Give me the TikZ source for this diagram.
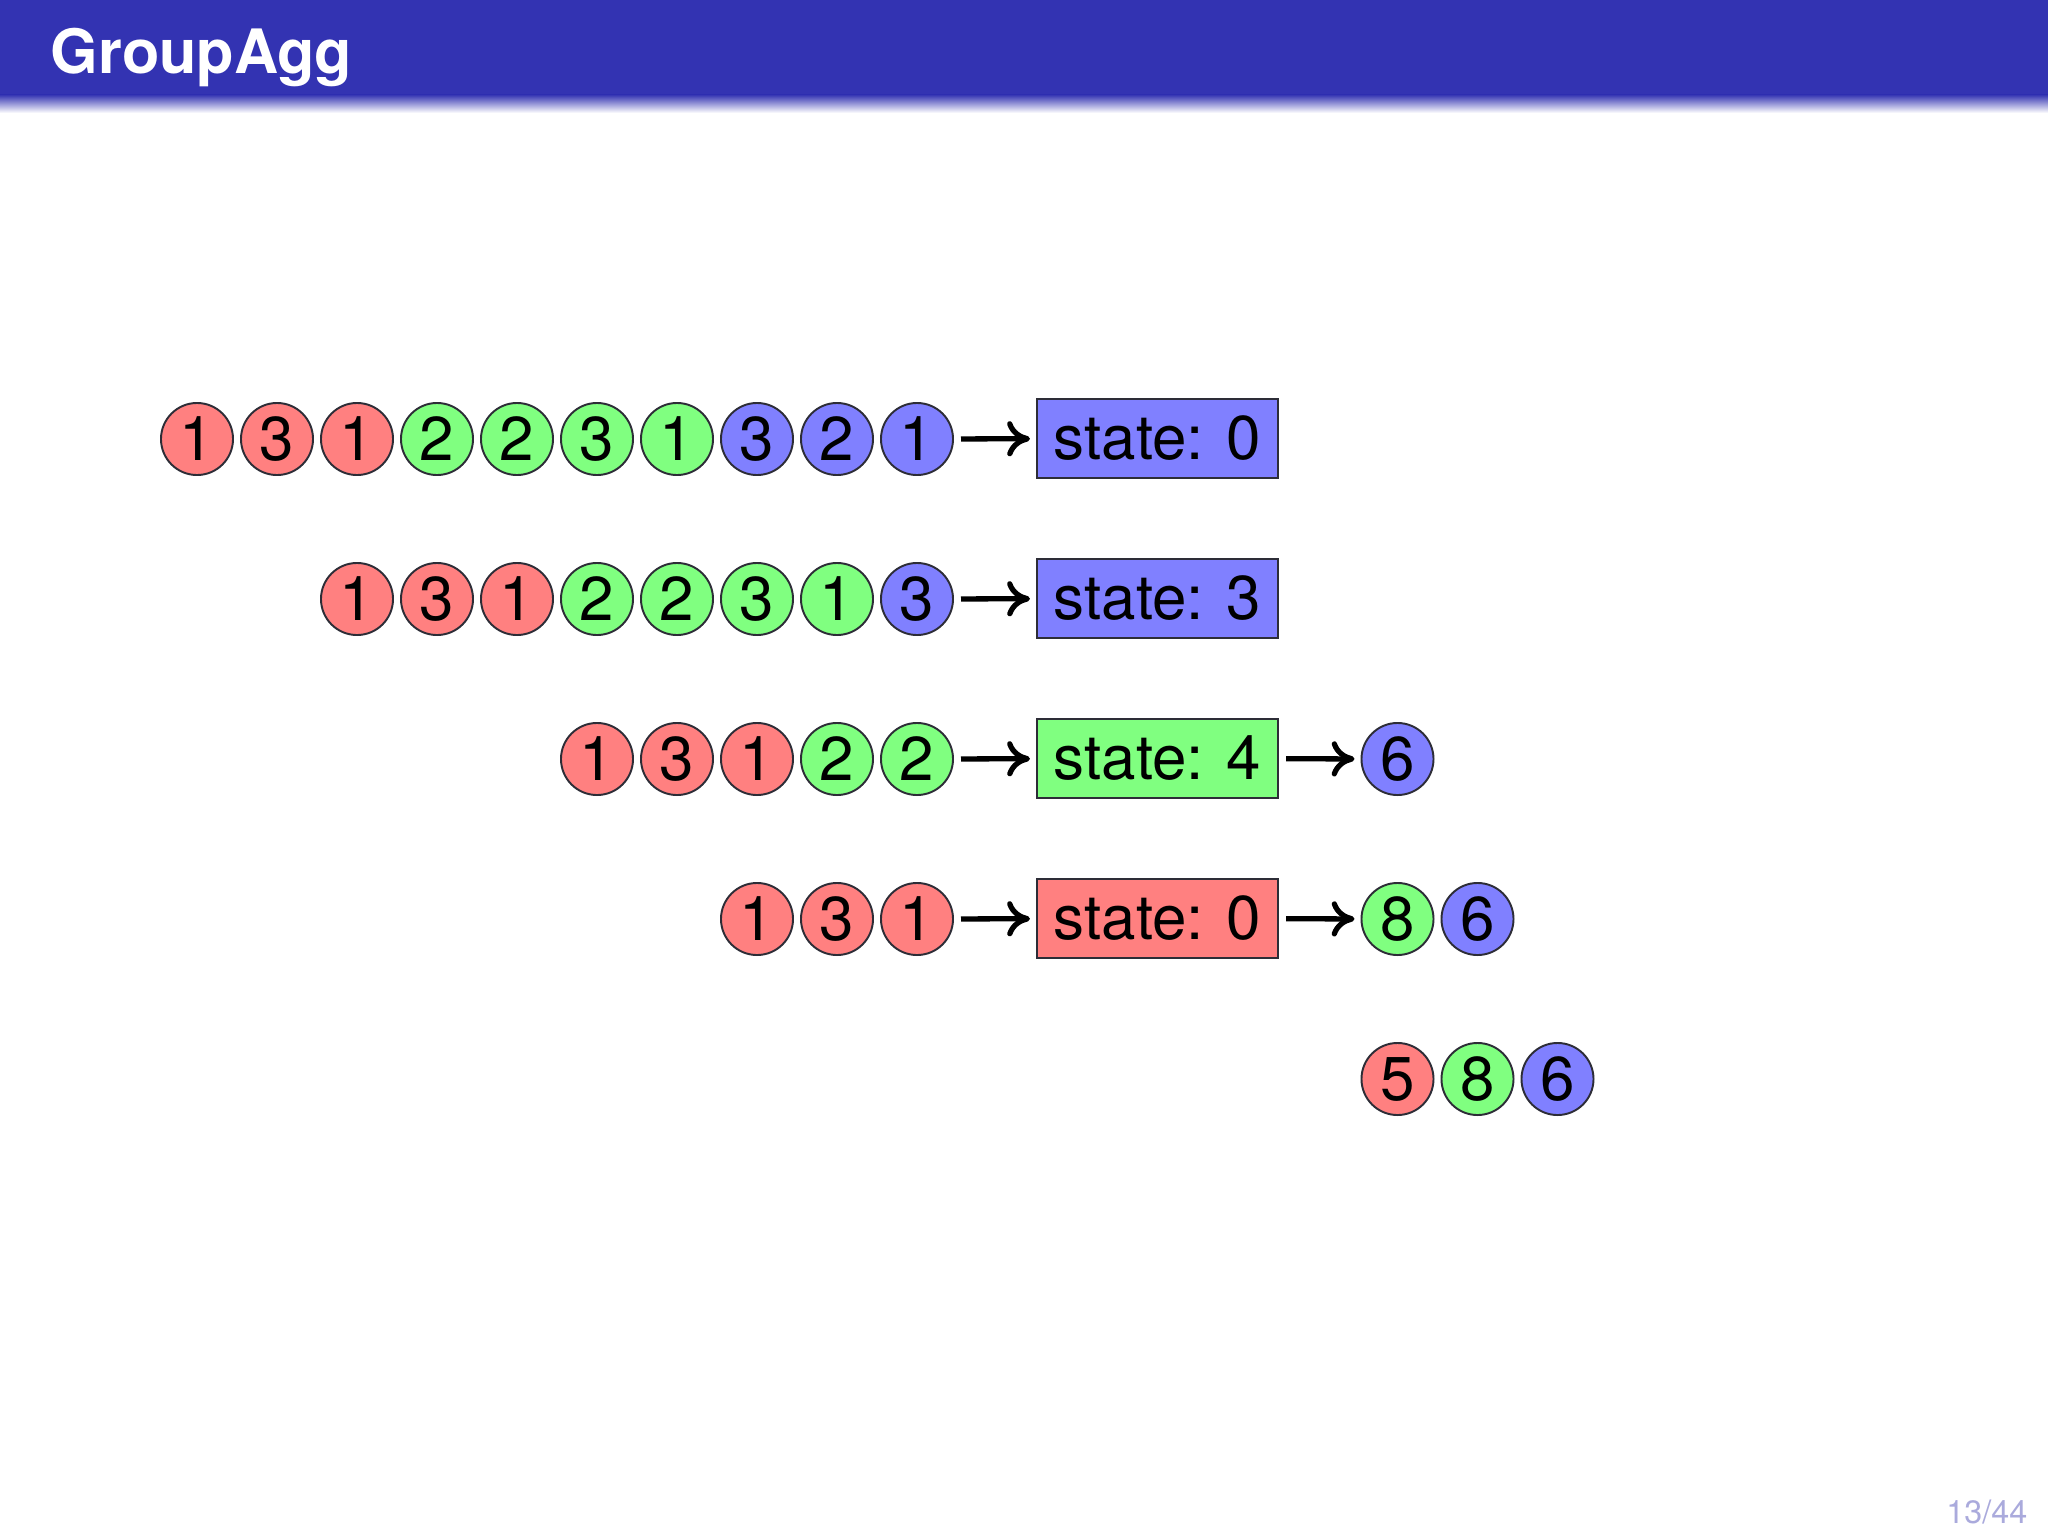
\documentclass[tikz,border=0pt]{standalone}
\usepackage{fontspec}
\setmainfont{TeX Gyre Heros}
\usetikzlibrary{arrows.meta}
\definecolor{barblue}{RGB}{51,51,178}
\definecolor{R}{RGB}{255,128,128}
\definecolor{G}{RGB}{128,255,128}
\definecolor{B}{RGB}{128,128,255}
\definecolor{edge}{RGB}{45,45,55}
\definecolor{pagenum}{RGB}{170,170,220}
\tikzset{
  ball/.style={circle, draw=edge, line width=0.55pt, minimum size=0.72cm, inner sep=0pt,
    font=\fontsize{17.6}{21}\selectfont},
  sbox/.style={rectangle, draw=edge, line width=0.55pt, minimum width=2.41cm, minimum height=0.79cm,
    inner sep=0pt, font=\fontsize{17.6}{21}\selectfont},
  arr/.style={line width=1.5pt, -{To[length=6.5pt,width=10pt]}, shorten <=0.07cm, shorten >=0.06cm},
}
\begin{document}
\begin{tikzpicture}[x=0.01cm,y=-0.01cm]
\useasboundingbox (0,0) rectangle (2048,1536);
% title bar
\fill[barblue] (0,0) rectangle (2048,95);
\shade[top color=barblue, bottom color=white] (0,94.5) rectangle (2048,113);
\node[anchor=base west, inner sep=0pt, text=white, font=\fontsize{17.4}{21}\selectfont\bfseries] (title) at (50,73) {GroupAgg};
% row 1
\foreach \v/\c [count=\i] in {1/R,3/R,1/R,2/G,2/G,3/G,1/G,3/B,2/B,1/B}
  \node[ball, fill=\c] (a\i) at ({197+80*(\i-1)},439) {\v};
\node[sbox, fill=B] (s1) at (1157.5,438.5) {state: 0};
\draw[arr] (a10) -- (s1);
% row 2
\foreach \v/\c [count=\i] in {1/R,3/R,1/R,2/G,2/G,3/G,1/G,3/B}
  \node[ball, fill=\c] (b\i) at ({357+80*(\i-1)},599) {\v};
\node[sbox, fill=B] (s2) at (1157.5,598.5) {state: 3};
\draw[arr] (b8) -- (s2);
% row 3
\foreach \v/\c [count=\i] in {1/R,3/R,1/R,2/G,2/G}
  \node[ball, fill=\c] (c\i) at ({597+80*(\i-1)},759) {\v};
\node[sbox, fill=G] (s3) at (1157.5,758.5) {state: 4};
\node[ball, fill=B] (o3a) at (1397.5,759) {6};
\draw[arr] (c5) -- (s3);
\draw[arr] (s3) -- (o3a);
% row 4
\foreach \v/\c [count=\i] in {1/R,3/R,1/R}
  \node[ball, fill=\c] (d\i) at ({757+80*(\i-1)},919) {\v};
\node[sbox, fill=R] (s4) at (1157.5,918.5) {state: 0};
\node[ball, fill=G] (o4a) at (1397.5,919) {8};
\node[ball, fill=B] (o4b) at (1477.5,919) {6};
\draw[arr] (d3) -- (s4);
\draw[arr] (s4) -- (o4a);
% row 5
\node[ball, fill=R] (e1) at (1397.5,1079) {5};
\node[ball, fill=G] (e2) at (1477.5,1079) {8};
\node[ball, fill=B] (e3) at (1557.5,1079) {6};
% page number
\node[anchor=base east, inner sep=0pt, text=pagenum, font=\fontsize{9.2}{11}\selectfont] (page) at (2028,1523) {13/44};
\end{tikzpicture}
\end{document}
